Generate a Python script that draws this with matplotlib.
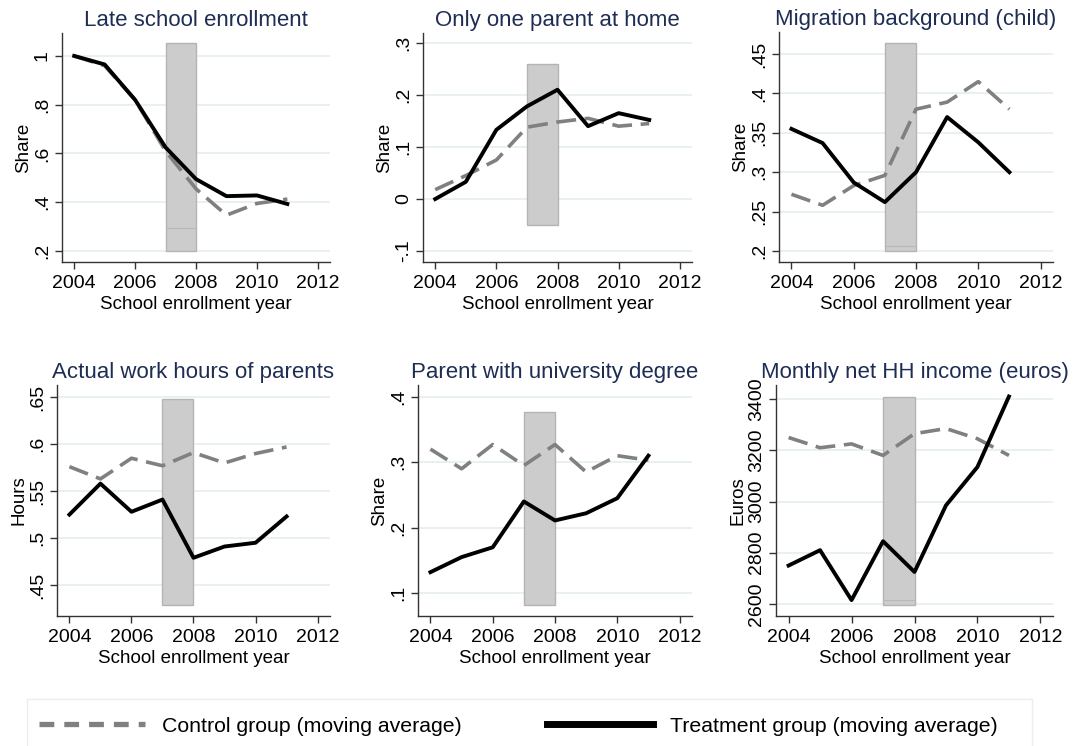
import numpy as np
import matplotlib
matplotlib.use('Agg')
import matplotlib.pyplot as plt
from matplotlib.lines import Line2D
from matplotlib.patches import Rectangle

plt.rcParams['font.family'] = ['Liberation Sans', 'DejaVu Sans']

years = [2004, 2005, 2006, 2007, 2008, 2009, 2010, 2011]

titles = ['Late school enrollment', 'Only one parent at home',
          'Migration background (child)', 'Actual work hours of parents',
          'Parent with university degree', 'Monthly net HH income (euros)']
ylabels = ['Share', 'Share', 'Share', 'Hours', 'Share', 'Euros']

# treatment group (solid black)
treat_late = [1.0, 0.965, 0.82, 0.625, 0.495, 0.425, 0.428, 0.393]
treat_single = [0.0, 0.033, 0.133, 0.178, 0.21, 0.14, 0.165, 0.152]
treat_migr = [0.355, 0.337, 0.287, 0.262, 0.30, 0.37, 0.338, 0.30]
treat_hours = [0.525, 0.558, 0.528, 0.541, 0.479, 0.491, 0.495, 0.523]
treat_uni = [0.132, 0.155, 0.17, 0.24, 0.211, 0.222, 0.245, 0.31]
treat_income = [2750, 2810, 2615, 2845, 2725, 2985, 3135, 3410]

# control group (dashed grey)
ctrl_late = [1.0, 0.96, 0.82, 0.61, 0.455, 0.347, 0.395, 0.413]
ctrl_single = [0.018, 0.045, 0.075, 0.138, 0.148, 0.155, 0.14, 0.145]
ctrl_migr = [0.272, 0.258, 0.283, 0.296, 0.38, 0.389, 0.415, 0.38]
ctrl_hours = [0.576, 0.563, 0.585, 0.577, 0.591, 0.58, 0.59, 0.597]
ctrl_uni = [0.32, 0.29, 0.327, 0.295, 0.327, 0.285, 0.31, 0.303]
ctrl_income = [3250, 3210, 3225, 3180, 3265, 3285, 3245, 3180]

treat = [treat_late, treat_single, treat_migr, treat_hours, treat_uni, treat_income]
ctrl = [ctrl_late, ctrl_single, ctrl_migr, ctrl_hours, ctrl_uni, ctrl_income]

# shaded reform window (2007-2008): low, high, faint inner line
band = [(0.2, 1.053, 0.294), (-0.05, 0.26, None), (0.2, 0.464, 0.206),
        (0.429, 0.648, None), (0.082, 0.377, None), (2595, 3410, 2615)]

yticks = [[0.2, 0.4, 0.6, 0.8, 1.0],
          [-0.1, 0, 0.1, 0.2, 0.3],
          [0.2, 0.25, 0.3, 0.35, 0.4, 0.45],
          [0.45, 0.5, 0.55, 0.6, 0.65],
          [0.1, 0.2, 0.3, 0.4],
          [2600, 2800, 3000, 3200, 3400]]
ylims = [(0.155, 1.094), (-0.121, 0.319), (0.186, 0.478),
         (0.417, 0.663), (0.065, 0.418), (2553, 3455)]

# axes boxes in pixels: left, right, top, bottom
boxes = [(62, 330, 33, 262), (423, 692, 33, 262), (779, 1053, 32, 262),
         (57, 330, 385, 616), (418, 692, 385, 616), (776, 1053, 385, 616)]

W, H = 1075, 746
fig = plt.figure(figsize=(W / 100, H / 100), dpi=100)
fig.patch.set_facecolor('white')

title_col = '#1e2d54'
grid_col = '#e4eef0'


def fmt(v):
    if float(v).is_integer():
        return str(int(v))
    s = ('%g' % v)
    return s.replace('0.', '.')


for i in range(6):
    l, r, t, b = boxes[i]
    ax = fig.add_axes([l / W, 1 - b / H, (r - l) / W, (b - t) / H])
    lo, hi, inner = band[i]
    ax.add_patch(Rectangle((2007, lo), 1, hi - lo, facecolor='#cccccc',
                           edgecolor='#b4b4b4', lw=1.0, zorder=1))
    if inner is not None:
        ax.plot([2007, 2008], [inner, inner], color='#b8b8b8', lw=0.8, zorder=1)
    ax.plot(years, ctrl[i], color='#808080', lw=2.6, dashes=(5.5, 2.4), zorder=3,
            solid_capstyle='butt')
    ax.plot(years, treat[i], color='black', lw=2.8, zorder=4)
    ax.set_xlim(2003.6, 2012.4)
    ax.set_ylim(*ylims[i])
    ax.set_xticks([2004, 2006, 2008, 2010, 2012])
    ax.set_yticks(yticks[i])
    ax.set_yticklabels([fmt(v) for v in yticks[i]], rotation=90, va='center')
    ax.grid(axis='y', color=grid_col, lw=1.2, zorder=0)
    ax.set_axisbelow(True)
    for s in ['top', 'right']:
        ax.spines[s].set_visible(False)
    for s in ['left', 'bottom']:
        ax.spines[s].set_color('#333333')
        ax.spines[s].set_linewidth(1.0)
    ax.tick_params(axis='both', labelsize=14, color='#333333', length=5,
                   width=1.0, pad=3)
    ax.tick_params(axis='x', pad=4.5)
    ax.set_title(titles[i], color=title_col, fontsize=16, pad=5)
    ax.set_xlabel('School enrollment year', fontsize=13.5, labelpad=2.5)
    ax.set_ylabel(ylabels[i], fontsize=13.5, labelpad=1)

# legend frame (runs off the bottom edge, as in the original)
fig.patches.append(Rectangle((27 / W, -0.02), (1032 - 27) / W, 0.02 + 1 - 699 / H,
                             transform=fig.transFigure, facecolor='white',
                             edgecolor='#e8eff1', lw=1.0, zorder=0))

handles = [Line2D([0], [0], color='#808080', lw=3.8, dashes=(2.8, 1.9)),
           Line2D([0], [0], color='black', lw=5)]
labels = ['Control group (moving average)', 'Treatment group (moving average)']
leg = fig.legend(handles, labels, loc='center left',
                 bbox_to_anchor=(30 / W, 1 - 726 / H),
                 ncol=2, frameon=False, fontsize=15.3, handlelength=5.0,
                 columnspacing=4.0, handletextpad=0.8, borderpad=0.4,
                 borderaxespad=0)

fig.savefig('out.png', dpi=100)
